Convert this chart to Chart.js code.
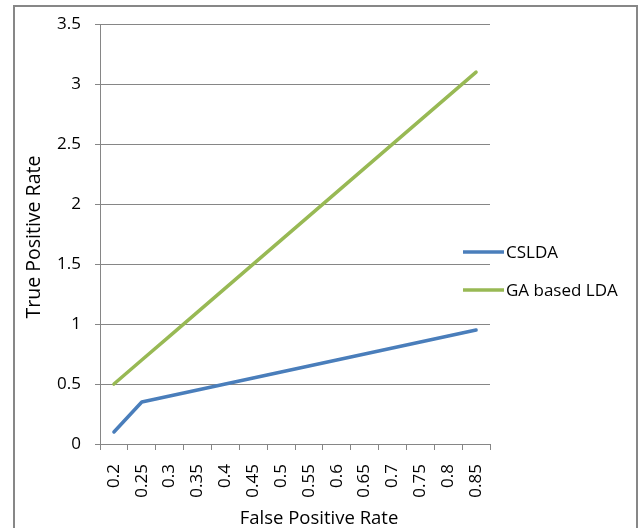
<!DOCTYPE html>
<html>
<head>
<meta charset="utf-8">
<script src="https://cdn.jsdelivr.net/npm/chart.js@4/dist/chart.umd.min.js"></script>
<style>
  html, body { margin: 0; padding: 0; background: #fff; overflow: hidden; }
  #wrap { width: 643px; height: 528px; }
</style>
</head>
<body>
<div id="wrap"><canvas id="roc" width="643" height="528"></canvas></div>
<script>
// False positive rate categories along the x axis
const fprLabels = ['0.2', '0.25', '0.3', '0.35', '0.4', '0.45', '0.5', '0.55', '0.6', '0.65', '0.7', '0.75', '0.8', '0.85'];

// True positive rate for each method
const csldaValues = [0.10, 0.35, 0.40, 0.45, 0.50, 0.55, 0.60, 0.65, 0.70, 0.75, 0.80, 0.85, 0.90, 0.95];
const gaLdaValues = [0.50, 0.70, 0.90, 1.10, 1.30, 1.50, 1.70, 1.90, 2.10, 2.30, 2.50, 2.70, 2.90, 3.10];

const seriesNames = ['CSLDA', 'GA based LDA'];
const seriesColors = ['#4a7ebb', '#98b954'];

const axisGrey = '#868686';
const FONT = '"Open Sans", "Noto Sans", sans-serif';

// Frame, axis titles and the legend drawn straight onto the canvas
const decorations = {
  id: 'decorations',
  beforeDraw(chart) {
    const ctx = chart.ctx;
    ctx.save();
    ctx.fillStyle = '#ffffff';
    ctx.fillRect(0, 0, chart.width, chart.height);
    ctx.strokeStyle = '#878787';
    ctx.lineWidth = 2;
    ctx.strokeRect(14, 6, 623, 540);
    ctx.restore();
  },
  afterDraw(chart) {
    const ctx = chart.ctx;
    ctx.save();
    ctx.fillStyle = '#000000';
    ctx.textAlign = 'center';
    ctx.textBaseline = 'alphabetic';
    ctx.font = '18.5px ' + FONT;
    ctx.fillText('False Positive Rate', 319, 524);

    ctx.font = '19.5px ' + FONT;
    ctx.translate(40, 237);
    ctx.rotate(-Math.PI / 2);
    ctx.fillText('True Positive Rate', 0, 0);
    ctx.restore();

    // legend
    ctx.save();
    ctx.font = '17px ' + FONT;
    ctx.textAlign = 'left';
    ctx.textBaseline = 'middle';
    chart.data.datasets.forEach((ds, i) => {
      const y = 252 + i * 38;
      ctx.strokeStyle = ds.borderColor;
      ctx.lineWidth = 3.5;
      ctx.lineCap = 'butt';
      ctx.beginPath();
      ctx.moveTo(463, y);
      ctx.lineTo(504, y);
      ctx.stroke();
      ctx.fillStyle = '#000000';
      ctx.fillText(ds.label, 506, y + 1);
    });
    ctx.restore();
  }
};

new Chart(document.getElementById('roc'), {
  type: 'line',
  data: {
    labels: fprLabels,
    datasets: [
      { label: seriesNames[0], data: csldaValues, borderColor: seriesColors[0], backgroundColor: seriesColors[0] },
      { label: seriesNames[1], data: gaLdaValues, borderColor: seriesColors[1], backgroundColor: seriesColors[1] }
    ]
  },
  options: {
    responsive: false,
    devicePixelRatio: 1,
    animation: false,
    layout: { padding: { left: 0, top: 22, right: 153, bottom: 0 } },
    elements: {
      line: { borderWidth: 3.5, tension: 0, borderCapStyle: 'round', borderJoinStyle: 'round', fill: false },
      point: { radius: 0, hoverRadius: 0 }
    },
    plugins: {
      legend: { display: false },
      tooltip: { enabled: false }
    },
    scales: {
      x: {
        type: 'category',
        offset: true,
        grid: { offset: true, drawOnChartArea: false, drawTicks: true, tickLength: 6, color: axisGrey },
        border: { display: true, color: axisGrey, width: 1 },
        ticks: {
          autoSkip: false, minRotation: 90, maxRotation: 90, padding: 14,
          color: '#000000', font: { family: FONT, size: 17 }
        },
        afterFit(scale) { scale.height = 84; }
      },
      y: {
        min: 0,
        max: 3.5,
        grid: { color: axisGrey, tickLength: 5, drawTicks: true },
        border: { display: true, color: axisGrey, width: 1 },
        ticks: {
          stepSize: 0.5, padding: 14,
          color: '#000000', font: { family: FONT, size: 17 },
          callback: (v) => String(Number(v.toFixed(2)))
        },
        afterFit(scale) { scale.width = 100; }
      }
    }
  },
  plugins: [decorations]
});
</script>
</body>
</html>
